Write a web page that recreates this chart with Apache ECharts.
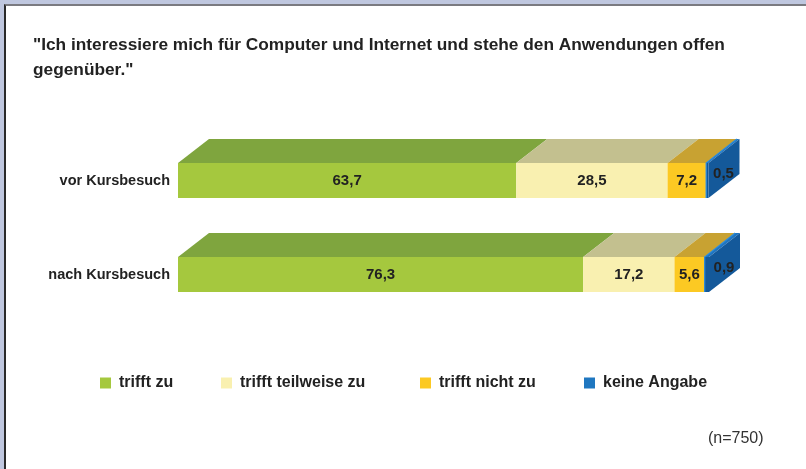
<!DOCTYPE html>
<html>
<head>
<meta charset="utf-8">
<script src="https://cdn.jsdelivr.net/npm/echarts@6/dist/echarts.min.js"></script>
<style>
html,body{margin:0;padding:0;}
body{width:806px;height:469px;background:#bfc7df;position:relative;overflow:hidden;}
#panel{position:absolute;left:4px;top:4px;width:802px;height:465px;background:#fff;border-left:2px solid #2a2a2a;border-top:2px solid #7a7a80;}
#chart{position:absolute;left:0;top:0;width:806px;height:469px;}
</style>
</head>
<body>
<div id="panel"></div>
<div id="chart"></div>
<script>
var categories = ['vor Kursbesuch', 'nach Kursbesuch'];
var seriesNames = ['trifft zu', 'trifft teilweise zu', 'trifft nicht zu', 'keine Angabe'];
var trifftZu = [63.7, 76.3];
var trifftTeilweise = [28.5, 17.2];
var trifftNicht = [7.2, 5.6];
var keineAngabe = [0.5, 0.9];
var valueLabels = [['63,7', '76,3'], ['28,5', '17,2'], ['7,2', '5,6'], ['0,5', '0,9']];

var allValues = [trifftZu, trifftTeilweise, trifftNicht, keineAngabe];
var frontColors = ['#a5c83e', '#f9f0b0', '#fcc923', '#14599a'];
var topColors = ['#7fa53e', '#c3c08f', '#c8a232', '#1e74c0'];
var legendColors = ['#a5c83e', '#f9f0b0', '#fcc923', '#1f77c0'];
var legendLeft = [100, 221, 420, 584];

var DX = 31, DY = 24, BAR_H = 35;
var FONT = '"Liberation Sans", Arial, sans-serif';

function buildData(s) {
  var out = [];
  for (var c = 0; c < categories.length; c++) {
    var start = 0;
    for (var k = 0; k < s; k++) start += allValues[k][c];
    out.push([start, start + allValues[s][c], c, valueLabels[s][c]]);
  }
  return out;
}

function makeRender(s) {
  var last = s === allValues.length - 1;
  return function (params, api) {
    var x0 = api.coord([api.value(0), api.value(2)]);
    var x1 = api.coord([api.value(1), api.value(2)]);
    var yc = x0[1];
    var yt = yc - BAR_H / 2;
    var children = [];
    children.push({
      type: 'polygon',
      shape: { points: [[x0[0], yt], [x1[0], yt], [x1[0] + DX, yt - DY], [x0[0] + DX, yt - DY]] },
      style: { fill: topColors[s] }
    });
    children.push({
      type: 'rect',
      shape: { x: x0[0], y: yt, width: x1[0] - x0[0], height: BAR_H },
      style: { fill: frontColors[s] }
    });
    if (last) {
      children.push({
        type: 'polygon',
        shape: { points: [[x1[0], yt], [x1[0] + DX, yt - DY], [x1[0] + DX, yt - DY + BAR_H], [x1[0], yt + BAR_H]] },
        style: { fill: '#14599a' }
      });
      children.push({
        type: 'polyline',
        shape: { points: [[x0[0] + 0.5, yt + BAR_H], [x0[0] + 0.5, yt], [x0[0] + DX, yt - DY]] },
        style: { stroke: '#2b8ad8', lineWidth: 1.2, fill: null }
      });
      children.push({
        type: 'text',
        style: { text: api.value(3), x: x1[0] + 15, y: yc - 7, align: 'center', verticalAlign: 'middle',
          font: 'bold 15px ' + FONT, fill: '#222' }
      });
    } else {
      children.push({
        type: 'text',
        style: { text: api.value(3), x: (x0[0] + x1[0]) / 2, y: yc, align: 'center', verticalAlign: 'middle',
          font: 'bold 15px ' + FONT, fill: '#222' }
      });
    }
    return { type: 'group', children: children };
  };
}

var series = [];
var legends = [];
for (var s = 0; s < seriesNames.length; s++) {
  series.push({
    type: 'custom',
    name: seriesNames[s],
    renderItem: makeRender(s),
    encode: { x: [0, 1], y: 2 },
    itemStyle: { color: legendColors[s] },
    data: buildData(s),
    z: 2
  });
  legends.push({
    data: [{ name: seriesNames[s], icon: 'rect' }],
    left: legendLeft[s], top: 375, padding: 0,
    itemWidth: 11, itemHeight: 11,
    selectedMode: false,
    textStyle: { fontFamily: FONT, fontWeight: 'bold', fontSize: 16, color: '#222', padding: [0, 0, 0, 3] }
  });
}

var chart = echarts.init(document.getElementById('chart'), null, { renderer: 'canvas' });
chart.setOption({
  animation: false,
  backgroundColor: 'transparent',
  title: {
    text: '"Ich interessiere mich für Computer und Internet und stehe den Anwendungen offen\ngegenüber."',
    left: 33, top: 33, padding: 0,
    textStyle: { fontFamily: FONT, fontWeight: 'bold', fontSize: 17.3, lineHeight: 25, color: '#222' }
  },
  legend: legends,
  grid: { left: 178, right: 97, top: 133.5, bottom: 147.5, containLabel: false },
  xAxis: { type: 'value', min: 0, max: 100, show: false },
  yAxis: {
    type: 'category', data: categories, inverse: true,
    axisLine: { show: false }, axisTick: { show: false }, splitLine: { show: false },
    axisLabel: { margin: 8, fontFamily: FONT, fontWeight: 'bold', fontSize: 14.5, color: '#222' }
  },
  graphic: [{
    type: 'text', left: 708, top: 431,
    style: { text: '(n=750)', font: '16px ' + FONT, fill: '#333' }
  }],
  series: series
});
</script>
</body>
</html>
